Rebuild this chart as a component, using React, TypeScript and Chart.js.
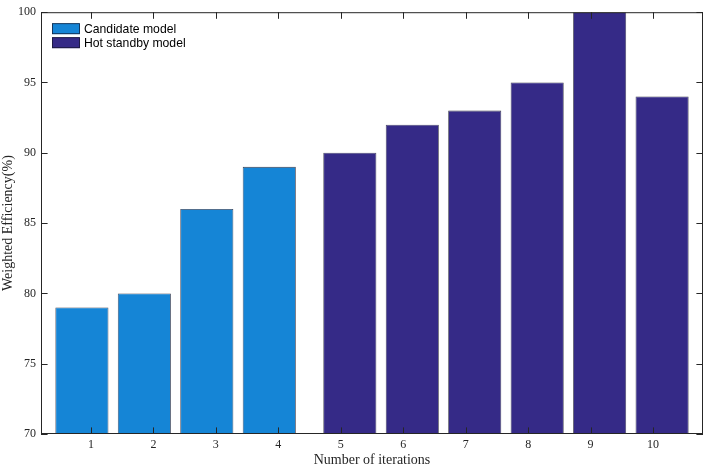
import React, { useEffect, useRef } from 'react';
import { Chart, ChartConfiguration, Plugin, registerables } from 'chart.js';

Chart.register(...registerables);

// data
const iterations = [1, 2, 3, 4, 5, 6, 7, 8, 9, 10];
const candidateIters = [1, 2, 3, 4];
const candidateValues = [79, 80, 86, 89];
const standbyIters = [5, 6, 7, 8, 9, 10];
const standbyValues = [90, 92, 93, 95, 100, 94];
const yTicks = [70, 75, 80, 85, 90, 95, 100];

const axisColor = '#262626';
const edgeColor = 'rgba(20,20,40,0.85)';
const serif = '"Liberation Serif", "Times New Roman", serif';

// box around the axes with inward ticks on all four sides (MATLAB style)
const framePlugin: Plugin = {
  id: 'matlabFrame',
  afterDatasetsDraw(chart) {
    const { ctx, chartArea: a, scales } = chart;
    const len = 6.6;
    ctx.save();
    ctx.strokeStyle = axisColor;
    ctx.lineWidth = 1;
    ctx.beginPath();
    iterations.forEach((v) => {
      const x = Math.round(scales.x.getPixelForValue(v)) + 0.5;
      ctx.moveTo(x, a.bottom);
      ctx.lineTo(x, a.bottom - len);
      ctx.moveTo(x, a.top);
      ctx.lineTo(x, a.top + len);
    });
    yTicks.forEach((v) => {
      const y = Math.round(scales.y.getPixelForValue(v)) + 0.5;
      ctx.moveTo(a.left, y);
      ctx.lineTo(a.left + len, y);
      ctx.moveTo(a.right, y);
      ctx.lineTo(a.right - len, y);
    });
    ctx.stroke();
    ctx.strokeRect(a.left + 0.5, a.top + 0.5, a.right - a.left - 1, a.bottom - a.top - 1);
    ctx.restore();
  },
};

// legend sitting inside the top-left corner of the plot
const legendPlugin: Plugin = {
  id: 'insideLegend',
  afterDraw(chart) {
    const { ctx, chartArea: a } = chart;
    ctx.save();
    ctx.font = '12.2px "Liberation Sans", Arial, sans-serif';
    ctx.textBaseline = 'middle';
    chart.data.datasets.forEach((ds, i) => {
      const x = a.left + 11;
      const y = a.top + 11 + i * 14;
      ctx.fillStyle = ds.backgroundColor as string;
      ctx.fillRect(x, y, 28, 11);
      ctx.strokeStyle = edgeColor;
      ctx.lineWidth = 0.8;
      ctx.strokeRect(x + 0.5, y + 0.5, 27, 10);
      ctx.fillStyle = '#000';
      ctx.fillText(ds.label as string, x + 32, y + 6);
    });
    ctx.restore();
  },
};

const App: React.FC = () => {
  const canvasRef = useRef<HTMLCanvasElement>(null);
  const chartRef = useRef<Chart | null>(null);

  useEffect(() => {
    document.body.style.margin = '0';
    if (!canvasRef.current) return;
    if (chartRef.current) chartRef.current.destroy();

    const ctx = canvasRef.current.getContext('2d');
    if (!ctx) return;

    const config: ChartConfiguration = {
      type: 'bar',
      data: {
        datasets: [
          {
            label: 'Candidate model',
            data: candidateIters.map((x, i) => ({ x, y: candidateValues[i] })),
            backgroundColor: '#1585d6',
            borderColor: edgeColor,
            borderWidth: 0.8,
            categoryPercentage: 0.58,
            barPercentage: 2.93,
          },
          {
            label: 'Hot standby model',
            data: standbyIters.map((x, i) => ({ x, y: standbyValues[i] })),
            backgroundColor: '#352a87',
            borderColor: edgeColor,
            borderWidth: 0.8,
            categoryPercentage: 0.58,
            barPercentage: 2.93,
          },
        ],
      },
      options: {
        responsive: true,
        maintainAspectRatio: false,
        animation: false,
        layout: { padding: { top: 8, right: 5, left: 0, bottom: 0 } },
        plugins: {
          legend: { display: false },
          tooltip: { enabled: false },
        },
        scales: {
          x: {
            type: 'linear',
            min: 0.2,
            max: 10.8,
            offset: false,
            grid: { display: false, drawTicks: false },
            border: { display: false },
            afterBuildTicks: (scale) => {
              scale.ticks = iterations.map((v) => ({ value: v }));
            },
            afterFit: (scale) => {
              scale.height = 35;
            },
            ticks: {
              padding: 4,
              color: axisColor,
              font: { family: serif, size: 12 },
              maxRotation: 0,
              autoSkip: false,
            },
            title: {
              display: true,
              text: 'Number of iterations',
              color: axisColor,
              font: { family: serif, size: 14 },
              padding: { top: 0, bottom: 0 },
            },
          },
          y: {
            type: 'linear',
            min: 70,
            max: 100,
            grid: { display: false, drawTicks: false },
            border: { display: false },
            afterBuildTicks: (scale) => {
              scale.ticks = yTicks.map((v) => ({ value: v }));
            },
            afterFit: (scale) => {
              scale.width = 41;
            },
            ticks: {
              padding: 5,
              color: axisColor,
              font: { family: serif, size: 12 },
            },
            title: {
              display: true,
              text: 'Weighted Efficiency(%)',
              color: axisColor,
              font: { family: serif, size: 14 },
              padding: { top: 0, bottom: 0 },
            },
          },
        },
      },
      plugins: [framePlugin, legendPlugin],
    };

    chartRef.current = new Chart(ctx, config);

    return () => {
      if (chartRef.current) {
        chartRef.current.destroy();
        chartRef.current = null;
      }
    };
  }, []);

  return (
    <div style={{ position: 'relative', width: 708, height: 469, background: '#fff' }}>
      <canvas ref={canvasRef} aria-label="Weighted efficiency bar chart" />
    </div>
  );
};

export default App;
